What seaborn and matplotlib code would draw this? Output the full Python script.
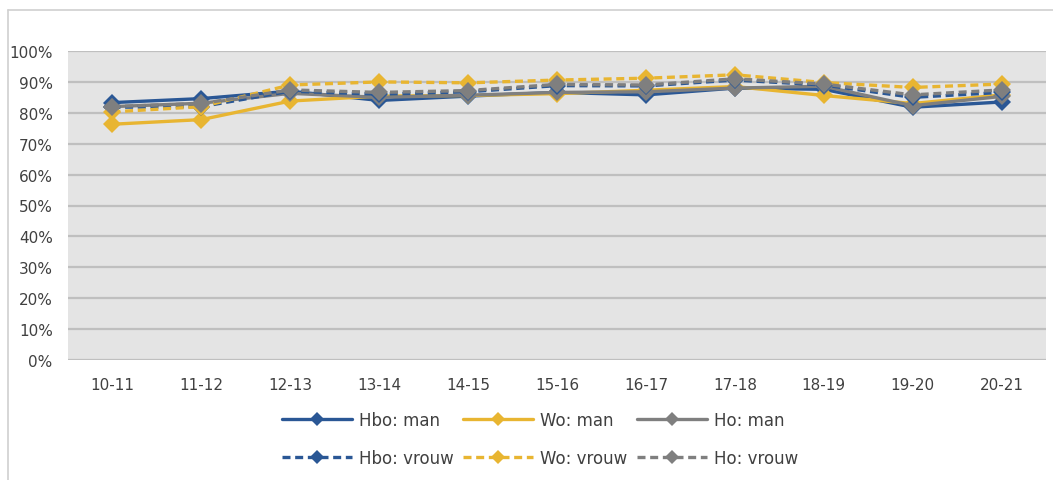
import matplotlib
matplotlib.use("Agg")
import matplotlib.pyplot as plt
from matplotlib.lines import Line2D
import seaborn as sns
import pandas as pd

years = ["10-11", "11-12", "12-13", "13-14", "14-15", "15-16",
         "16-17", "17-18", "18-19", "19-20", "20-21"]

hbo_man   = [83.3, 84.6, 87.0, 84.0, 85.4, 86.6, 85.8, 88.0, 87.6, 81.8, 83.5]
wo_man    = [76.3, 77.8, 83.8, 85.4, 85.6, 86.2, 87.3, 88.5, 85.6, 83.0, 85.8]
ho_man    = [82.0, 83.1, 86.3, 85.0, 85.7, 86.6, 86.8, 88.0, 88.6, 82.3, 85.3]
hbo_vrouw = [81.8, 82.0, 87.0, 86.0, 86.8, 88.8, 88.7, 90.6, 89.0, 85.0, 86.6]
wo_vrouw  = [80.3, 82.0, 89.0, 90.0, 89.7, 90.6, 91.2, 92.3, 89.8, 88.2, 89.3]
ho_vrouw  = [82.0, 83.0, 87.4, 86.6, 87.2, 89.2, 89.0, 91.0, 89.3, 85.8, 87.4]

names = ["Hbo: man", "Wo: man", "Ho: man", "Hbo: vrouw", "Wo: vrouw", "Ho: vrouw"]
series = [hbo_man, wo_man, ho_man, hbo_vrouw, wo_vrouw, ho_vrouw]

BLUE = "#2A5795"
GOLD = "#E8B531"
GRAY = "#7F7F7F"
colors = [BLUE, GOLD, GRAY, BLUE, GOLD, GRAY]
dash = (0, (2.4, 1.4))
styles = ["-", "-", "-", dash, dash, dash]

rows = []
for n, vals in zip(names, series):
    for y, v in zip(years, vals):
        rows.append({"jaar": y, "serie": n, "waarde": v})
df = pd.DataFrame(rows)

sns.set_theme(style="white")
plt.rcParams["font.family"] = ["DejaVu Sans"]

fig = plt.figure(figsize=(10.53, 4.81), dpi=100)
ax = fig.add_axes([68/1053, 1 - 361/481, (1046-68)/1053, (361-52)/481])
ax.set_facecolor("#E4E4E4")

handles = {}
for n, c, ls in zip(names, colors, styles):
    sub = df[df["serie"] == n]
    sns.lineplot(data=sub, x="jaar", y="waarde", ax=ax, color=c,
                 linestyle=ls, linewidth=2.4, marker="D", markersize=9.5,
                 markeredgewidth=0, sort=False, legend=False, zorder=3)
    handles[n] = Line2D([0], [0], color=c, linestyle=ls, linewidth=2.4,
                        marker="D", markersize=7, markeredgewidth=0)

ax.set_xlim(-0.5, 10.5)
ax.set_ylim(0, 100)
ax.set_yticks(range(0, 101, 10))
ax.set_yticklabels([f"{v}%" for v in range(0, 101, 10)])
ax.grid(axis="y", color="#BFBFBF", linewidth=1.6, zorder=0)
ax.set_axisbelow(True)
for s in ax.spines.values():
    s.set_visible(False)
ax.tick_params(axis="both", length=0, labelsize=11, colors="#404040")
ax.tick_params(axis="y", pad=11)
ax.tick_params(axis="x", pad=12)
ax.set_xlabel("")
ax.set_ylabel("")

order = ["Hbo: man", "Hbo: vrouw", "Wo: man", "Wo: vrouw", "Ho: man", "Ho: vrouw"]
fig.legend([handles[o] for o in order], order, ncol=3, loc="center",
           bbox_to_anchor=(540/1053, 1 - 440/481), frameon=False,
           fontsize=12, handlelength=4.2, columnspacing=0.55,
           handletextpad=0.42, labelspacing=1.2, labelcolor="#404040")

# outer chart border (left and top)
fig.add_artist(Line2D([8/1053, 8/1053], [0, 1 - 11/481], color="#D0D0D0",
                      linewidth=1.2, transform=fig.transFigure))
fig.add_artist(Line2D([8/1053, 1], [1 - 11/481, 1 - 11/481], color="#D0D0D0",
                      linewidth=1.2, transform=fig.transFigure))

fig.savefig("out.png", dpi=100, facecolor="white")
